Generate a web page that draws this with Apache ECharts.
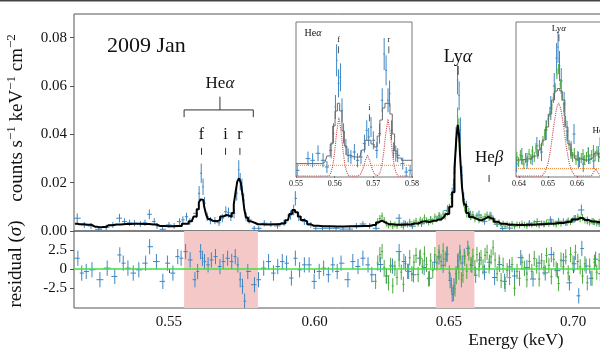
<!DOCTYPE html>
<html><head><meta charset="utf-8">
<script src="https://cdn.jsdelivr.net/npm/echarts/dist/echarts.min.js"></script>
<style>html,body{margin:0;padding:0;background:#fff}#c{width:600px;height:357px}</style>
</head><body><div id="c"></div><script>
// ---------------- data (energies in keV) ----------------
const xTicksMain = [0.55, 0.60, 0.65, 0.70];
const yTicksMain = [0, 0.02, 0.04, 0.06, 0.08];
const yTicksResid = [-2.5, 0, 2.5];
const xTicksInset1 = [0.55, 0.56, 0.57, 0.58];
const xTicksInset2 = [0.64, 0.65, 0.66];
const shadedBands = [[0.555, 0.580], [0.645, 0.660]];

// main model (counts s-1 keV-1 cm-2)
const modelMain = [
[0.5200,0.0030],[0.5215,0.0028],[0.5240,0.0026],[0.5262,0.0018],[0.5275,0.0016],[0.5290,0.0017],
[0.5305,0.0024],[0.5330,0.0027],[0.5360,0.0029],[0.5390,0.0030],[0.5420,0.0029],[0.5450,0.0027],
[0.5470,0.0021],[0.5500,0.0020],[0.5530,0.0021],[0.5555,0.0030],[0.5575,0.0040],[0.5588,0.0060],
[0.5596,0.0090],[0.5602,0.0118],[0.5608,0.0131],[0.5614,0.0128],[0.5620,0.0100],[0.5626,0.0070],
[0.5632,0.0050],[0.5640,0.0042],[0.5652,0.0040],[0.5665,0.0045],[0.5676,0.0060],[0.5686,0.0066],
[0.5696,0.0064],[0.5706,0.0058],[0.5714,0.0075],[0.5720,0.0110],[0.5726,0.0160],[0.5732,0.0205],
[0.5738,0.0218],[0.5744,0.0200],[0.5750,0.0150],[0.5756,0.0090],[0.5762,0.0055],[0.5770,0.0040],
[0.5782,0.0033],[0.5800,0.0028],[0.5830,0.0027],[0.5860,0.0028],[0.5885,0.0031],[0.5905,0.0045],
[0.5915,0.0070],[0.5925,0.0087],[0.5935,0.0078],[0.5945,0.0060],[0.5955,0.0046],[0.5968,0.0040],
[0.5978,0.0028],[0.5995,0.0022],[0.6030,0.0020],[0.6080,0.0019],[0.6130,0.0020],[0.6180,0.0021],
[0.6215,0.0025],[0.6232,0.0035],[0.6245,0.0043],[0.6258,0.0036],[0.6272,0.0028],[0.6300,0.0026],
[0.6340,0.0027],[0.6370,0.0031],[0.6395,0.0038],[0.6410,0.0040],[0.6425,0.0037],[0.6440,0.0042],
[0.6460,0.0048],[0.6480,0.0056],[0.6495,0.0070],[0.6508,0.0100],[0.6518,0.0160],[0.6526,0.0260],
[0.6532,0.0380],[0.6537,0.0439],[0.6542,0.0400],[0.6548,0.0290],[0.6555,0.0180],[0.6563,0.0110],
[0.6572,0.0075],[0.6585,0.0058],[0.6600,0.0050],[0.6620,0.0045],[0.6640,0.0050],[0.6655,0.0058],
[0.6668,0.0052],[0.6685,0.0038],[0.6705,0.0030],[0.6740,0.0026],[0.6780,0.0025],[0.6820,0.0026],
[0.6860,0.0028],[0.6900,0.0030],[0.6940,0.0033],[0.6980,0.0038],[0.7010,0.0048],[0.7030,0.0054],
[0.7050,0.0046],[0.7080,0.0039],[0.7110,0.0036],[0.7140,0.0038],[0.7180,0.0034],[0.7220,0.0032]
];

// instrument 1 (blue): [E, value, error]
const blueMain = [
[0.5207,0.0053,0.0020],[0.5229,0.0025,0.0012],[0.5250,0.0021,0.0012],[0.5274,0.0007,0.0010],
[0.5298,0.0015,0.0011],[0.5319,0.0025,0.0012],[0.5340,0.0053,0.0018],[0.5356,0.0039,0.0014],
[0.5372,0.0034,0.0013],[0.5388,0.0032,0.0013],[0.5407,0.0029,0.0012],[0.5422,0.0034,0.0013],
[0.5436,0.0069,0.0020],[0.5452,0.0039,0.0014],[0.5461,0.0021,0.0012],[0.5479,0.0007,0.0010],
[0.5500,0.0025,0.0012],[0.5517,0.0021,0.0012],[0.5535,0.0039,0.0014],[0.5546,0.0046,0.0015],
[0.5558,0.0059,0.0017],[0.5569,0.0039,0.0014],[0.5592,0.0073,0.0020],[0.5600,0.0156,0.0030],
[0.5607,0.0239,0.0040],[0.5613,0.0183,0.0034],[0.5618,0.0115,0.0026],[0.5627,0.0059,0.0018],
[0.5638,0.0043,0.0015],[0.5653,0.0043,0.0015],[0.5667,0.0034,0.0013],[0.5678,0.0053,0.0017],
[0.5690,0.0080,0.0022],[0.5699,0.0076,0.0021],[0.5707,0.0059,0.0018],[0.5718,0.0073,0.0020],
[0.5727,0.0156,0.0030],[0.5734,0.0253,0.0040],[0.5739,0.0204,0.0036],[0.5745,0.0183,0.0034],
[0.5751,0.0128,0.0028],[0.5759,0.0059,0.0018],[0.5770,0.0046,0.0015],[0.5787,0.0011,0.0010],
[0.5803,0.0011,0.0010],[0.5822,0.0032,0.0013],[0.5845,0.0029,0.0012],[0.5868,0.0021,0.0012],
[0.5891,0.0034,0.0013],[0.5914,0.0066,0.0019],[0.5925,0.0087,0.0022],[0.5931,0.0135,0.0030],
[0.5943,0.0059,0.0018],[0.5963,0.0039,0.0014],[0.5986,0.0025,0.0012],[0.6004,0.0011,0.0010],
[0.6028,0.0011,0.0010],[0.6053,0.0011,0.0010],[0.6077,0.0011,0.0010],[0.6102,0.0008,0.0010],
[0.6126,0.0008,0.0010],[0.6151,0.0021,0.0012],[0.6175,0.0029,0.0012],[0.6200,0.0021,0.0012],
[0.6224,0.0011,0.0010],[0.6310,0.0053,0.0017],[0.6328,0.0032,0.0013],[0.6360,0.0020,0.0012],
[0.6395,0.0030,0.0013],[0.6430,0.0046,0.0015],[0.6465,0.0058,0.0017],[0.6495,0.0085,0.0022],
[0.6513,0.0150,0.0030],[0.6522,0.0240,0.0040],[0.6528,0.0380,0.0050],[0.6534,0.0625,0.0060],
[0.6540,0.0560,0.0060],[0.6545,0.0420,0.0050],[0.6551,0.0230,0.0040],[0.6558,0.0130,0.0030],
[0.6568,0.0101,0.0024],[0.6585,0.0065,0.0019],[0.6618,0.0066,0.0019],[0.6640,0.0040,0.0014],
[0.6662,0.0062,0.0018],[0.6690,0.0028,0.0012],[0.6712,0.0010,0.0010],[0.6740,0.0012,0.0010],
[0.6780,0.0025,0.0012],[0.6820,0.0032,0.0013],[0.6852,0.0039,0.0014],[0.6880,0.0030,0.0013],
[0.6906,0.0046,0.0015],[0.6940,0.0040,0.0014],[0.6975,0.0036,0.0014],[0.7005,0.0050,0.0016],
[0.7035,0.0087,0.0022],[0.7060,0.0045,0.0015],[0.7085,0.0039,0.0014],[0.7110,0.0030,0.0013]
];

// instrument 2 (green): [E, value, error]
const greenMain = [
[0.6222,0.0025,0.0012],[0.6230,0.0040,0.0013],[0.6238,0.0052,0.0014],[0.6246,0.0062,0.0015],
[0.6254,0.0045,0.0013],[0.6262,0.0030,0.0012],[0.6270,0.0022,0.0011],[0.6278,0.0031,0.0012],
[0.6286,0.0018,0.0011],[0.6294,0.0027,0.0012],[0.6302,0.0020,0.0011],[0.6310,0.0032,0.0012],
[0.6318,0.0024,0.0011],[0.6326,0.0017,0.0011],[0.6334,0.0030,0.0012],[0.6342,0.0026,0.0012],
[0.6350,0.0038,0.0013],[0.6358,0.0028,0.0012],[0.6366,0.0035,0.0012],[0.6374,0.0042,0.0013],
[0.6382,0.0030,0.0012],[0.6390,0.0046,0.0013],[0.6398,0.0040,0.0013],[0.6406,0.0055,0.0014],
[0.6414,0.0043,0.0013],[0.6422,0.0035,0.0012],[0.6430,0.0048,0.0013],[0.6438,0.0040,0.0013],
[0.6446,0.0058,0.0014],[0.6454,0.0050,0.0014],[0.6462,0.0064,0.0015],[0.6470,0.0055,0.0014],
[0.6478,0.0070,0.0015],[0.6486,0.0062,0.0015],[0.6494,0.0082,0.0017],[0.6502,0.0095,0.0018],
[0.6510,0.0135,0.0022],[0.6518,0.0190,0.0026],[0.6524,0.0270,0.0030],[0.6529,0.0380,0.0034],
[0.6534,0.0473,0.0038],[0.6539,0.0430,0.0036],[0.6544,0.0340,0.0032],[0.6549,0.0220,0.0027],
[0.6555,0.0140,0.0022],[0.6562,0.0098,0.0018],[0.6570,0.0072,0.0016],[0.6578,0.0080,0.0016],
[0.6586,0.0060,0.0014],[0.6594,0.0068,0.0015],[0.6602,0.0050,0.0014],[0.6610,0.0062,0.0015],
[0.6618,0.0045,0.0013],[0.6626,0.0056,0.0014],[0.6634,0.0049,0.0014],[0.6642,0.0060,0.0014],
[0.6650,0.0066,0.0015],[0.6658,0.0055,0.0014],[0.6666,0.0062,0.0015],[0.6674,0.0047,0.0013],
[0.6682,0.0040,0.0013],[0.6690,0.0030,0.0012],[0.6698,0.0036,0.0012],[0.6706,0.0025,0.0011],
[0.6714,0.0031,0.0012],[0.6722,0.0020,0.0011],[0.6730,0.0028,0.0012],[0.6740,0.0024,0.0011],
[0.6750,0.0030,0.0012],[0.6760,0.0018,0.0011],[0.6770,0.0027,0.0012],[0.6780,0.0022,0.0011],
[0.6790,0.0031,0.0012],[0.6800,0.0026,0.0012],[0.6810,0.0020,0.0011],[0.6820,0.0030,0.0012],
[0.6830,0.0025,0.0011],[0.6840,0.0033,0.0012],[0.6850,0.0028,0.0012],[0.6860,0.0022,0.0011],
[0.6870,0.0032,0.0012],[0.6880,0.0027,0.0012],[0.6890,0.0035,0.0012],[0.6900,0.0029,0.0012],
[0.6910,0.0038,0.0013],[0.6920,0.0031,0.0012],[0.6930,0.0026,0.0012],[0.6940,0.0036,0.0012],
[0.6950,0.0030,0.0012],[0.6960,0.0040,0.0013],[0.6970,0.0033,0.0012],[0.6980,0.0043,0.0013],
[0.6990,0.0037,0.0012],[0.7000,0.0045,0.0013],[0.7010,0.0052,0.0014],[0.7020,0.0058,0.0014],
[0.7030,0.0050,0.0014],[0.7040,0.0056,0.0014],[0.7050,0.0044,0.0013],[0.7060,0.0040,0.0013],
[0.7070,0.0034,0.0012],[0.7080,0.0041,0.0013],[0.7090,0.0036,0.0012],[0.7100,0.0031,0.0012],
[0.7110,0.0038,0.0013],[0.7120,0.0033,0.0012]
];

// residuals in sigma: [E, residual]
const blueResid = [
[0.5209,1.43],[0.5221,-0.52],[0.5235,-0.31],[0.5253,-0.09],[0.5278,-1.39],[0.5301,0.13],
[0.5325,-0.96],[0.5341,1.86],[0.5352,0.78],[0.5367,0.13],[0.5384,-0.52],[0.5402,-0.09],
[0.5424,0.78],[0.5437,2.94],[0.5459,0.99],[0.5480,-1.61],[0.5495,0.78],[0.5513,-0.52],
[0.5529,1.64],[0.5540,1.43],[0.5555,2.29],[0.5570,1.21],[0.5586,-1.39],[0.5595,-0.31],
[0.5605,2.29],[0.5611,1.43],[0.5618,0.99],[0.5630,0.56],[0.5641,1.21],[0.5655,1.64],
[0.5670,0.34],[0.5681,0.99],[0.5696,1.43],[0.5710,0.99],[0.5722,1.64],[0.5731,0.56],
[0.5739,-1.39],[0.5747,-2.26],[0.5754,-4.20],[0.5765,-0.31],[0.5788,-2.04],[0.5802,-1.39],
[0.5820,0.13],[0.5837,0.99],[0.5854,-0.52],[0.5869,0.34],[0.5885,0.99],[0.5900,0.78],
[0.5917,-1.17],[0.5931,1.43],[0.5946,-0.09],[0.5963,0.56],[0.5980,0.56],[0.5998,-1.61],
[0.6016,-0.31],[0.6032,0.13],[0.6049,-0.74],[0.6065,0.56],[0.6081,-0.31],[0.6095,0.78],
[0.6120,-1.39],[0.6138,0.99],[0.6157,0.34],[0.6175,1.43],[0.6194,0.56],[0.6208,-0.74],
[0.6240,0.60],[0.6262,-0.90],[0.6285,0.40],[0.6310,2.29],[0.6328,0.99],[0.6346,-0.30],
[0.6364,-0.74],[0.6388,1.43],[0.6405,0.20],[0.6425,-1.20],[0.6445,0.90],[0.6462,1.60],
[0.6478,0.50],[0.6492,1.90],[0.6505,-1.50],[0.6513,-3.30],[0.6520,-2.20],[0.6528,-0.60],
[0.6536,1.10],[0.6543,2.20],[0.6552,0.80],[0.6560,1.70],[0.6574,2.73],[0.6590,0.50],
[0.6605,-0.80],[0.6620,1.20],[0.6640,-0.40],[0.6660,0.90],[0.6680,-1.10],[0.6700,0.60],
[0.6720,-1.60],[0.6740,0.30],[0.6760,-0.90],[0.6785,1.50],[0.6810,0.20],[0.6835,-1.30],
[0.6860,0.80],[0.6885,-0.50],[0.6910,1.90],[0.6935,-0.20],[0.6960,1.10],[0.6985,-1.80],
[0.7005,0.70],[0.7024,-3.50],[0.7037,2.70],[0.7055,0.40],[0.7075,-1.20],[0.7095,1.30],
[0.7115,-0.60]
];
const greenResidValues = [
-1.6,0.8,1.9,2.3,0.2,-0.9,-1.8,0.5,-2.2,0.1,-1.1,1.2,-0.4,-2.0,0.7,-0.3,1.5,-0.6,0.9,1.8,
-0.7,1.6,0.4,2.0,0.6,-1.3,1.1,-0.2,1.9,0.8,2.2,1.0,2.4,1.3,2.0,-0.5,-2.1,-3.2,-2.6,-1.0,
0.9,-0.4,1.6,-1.4,-0.8,1.4,-0.3,2.1,0.6,1.7,0.2,1.9,-0.1,1.5,0.3,1.8,2.2,0.4,1.6,2.8,
1.2,-0.6,0.9,-1.5,0.5,-2.0,-0.2,-1.1,0.6,-2.5,-0.3,-1.2,0.9,0.1,-1.4,1.0,-0.3,1.4,0.4,-1.3,
1.1,0.2,1.8,0.5,-1.0,1.3,0.0,-1.9,1.2,0.3,1.6,-0.5,1.9,0.8,2.2,1.0,0.3,-0.9,0.7,-1.8,
0.4,-1.2,0.9,-0.4,1.1,-0.7
];

// Inset 1 (He alpha triplet), arbitrary units
const inset1Blue = [
[0.5503,0.0057,0.006],[0.5531,0.0174,0.007],[0.5543,0.0157,0.007],[0.5557,0.0227,0.008],
[0.5570,0.0157,0.007],[0.5580,0.0090,0.006],[0.5591,0.0257,0.008],[0.5597,0.0427,0.010],
[0.5602,0.0690,0.012],[0.5605,0.1157,0.016],[0.5610,0.0927,0.014],[0.5615,0.0987,0.014],
[0.5619,0.0657,0.012],[0.5623,0.0427,0.010],[0.5629,0.0290,0.008],[0.5635,0.0207,0.007],
[0.5642,0.0190,0.007],[0.5651,0.0240,0.008],[0.5659,0.0157,0.007],[0.5668,0.0190,0.007],
[0.5677,0.0324,0.009],[0.5683,0.0457,0.010],[0.5688,0.0390,0.009],[0.5694,0.0490,0.010],
[0.5700,0.0357,0.009],[0.5709,0.0257,0.008],[0.5716,0.0424,0.010],[0.5723,0.0757,0.012],
[0.5728,0.1220,0.016],[0.5733,0.1057,0.015],[0.5738,0.0757,0.012],[0.5742,0.0824,0.013],
[0.5747,0.0457,0.010],[0.5752,0.0257,0.008],[0.5758,0.0224,0.008],[0.5763,0.0207,0.007],
[0.5776,0.0124,0.006],[0.5785,0.0040,0.005],[0.5795,0.0057,0.005]
];
const inset1Model = [
[0.5500,0.0124],[0.5560,0.0124],[0.5575,0.0140],[0.5585,0.0200],[0.5592,0.0320],[0.5598,0.0500],
[0.5604,0.0650],[0.5610,0.0727],[0.5616,0.0650],[0.5622,0.0450],[0.5628,0.0300],[0.5635,0.0207],
[0.5650,0.0190],[0.5665,0.0190],[0.5675,0.0260],[0.5682,0.0357],[0.5690,0.0357],[0.5698,0.0320],
[0.5706,0.0290],[0.5714,0.0400],[0.5720,0.0560],[0.5727,0.0680],[0.5733,0.0727],[0.5740,0.0727],
[0.5746,0.0620],[0.5752,0.0420],[0.5758,0.0250],[0.5765,0.0180],[0.5780,0.0157],[0.5800,0.0157]
];
const inset1Lines = [
[0.5500,0],[0.5585,0],[0.5590,0.003],[0.5595,0.010],[0.5600,0.024],[0.5605,0.043],[0.5611,0.059],
[0.5617,0.043],[0.5622,0.024],[0.5627,0.010],[0.5632,0.003],[0.5637,0],
[0.5660,0],[0.5667,0.002],[0.5673,0.007],[0.5679,0.015],[0.5685,0.0207],[0.5691,0.015],
[0.5697,0.007],[0.5703,0.002],[0.5710,0],
[0.5712,0],[0.5717,0.003],[0.5722,0.010],[0.5727,0.024],[0.5732,0.042],[0.5738,0.057],
[0.5744,0.042],[0.5749,0.024],[0.5754,0.010],[0.5759,0.003],[0.5764,0],[0.5800,0]
];
const inset1Continuum = [[0.5500,0.0107],[0.5800,0.0107]];

// Inset 2 (Ly alpha), arbitrary units
const inset2Green = [
[0.6393,0.019],[0.6399,0.014],[0.6405,0.021],[0.6411,0.016],[0.6417,0.012],[0.6423,0.018],
[0.6429,0.015],[0.6435,0.022],[0.6441,0.017],[0.6447,0.025],[0.6453,0.019],[0.6459,0.028],
[0.6465,0.022],[0.6471,0.031],[0.6477,0.027],[0.6483,0.035],[0.6489,0.042],[0.6495,0.050],
[0.6501,0.057],[0.6507,0.064],[0.6513,0.071],[0.6519,0.078],[0.6525,0.088],[0.6531,0.102],
[0.6537,0.107],[0.6543,0.092],[0.6549,0.080],[0.6555,0.069],[0.6561,0.055],[0.6567,0.041],
[0.6573,0.031],[0.6579,0.024],[0.6585,0.019],[0.6591,0.023],[0.6597,0.016],[0.6603,0.020],
[0.6609,0.014],[0.6615,0.018],[0.6621,0.022],[0.6627,0.016],[0.6633,0.019],[0.6639,0.024],
[0.6645,0.017],[0.6651,0.021],[0.6657,0.026],[0.6663,0.020],[0.6669,0.025],[0.6675,0.019],
[0.6681,0.022],[0.6687,0.016],[0.6693,0.019]
];
const inset2GreenErr = 0.005;
const inset2Blue = [
[0.6392,0.012,0.008],[0.6410,0.020,0.008],[0.6428,0.015,0.008],[0.6446,0.019,0.008],
[0.6462,0.030,0.009],[0.6478,0.024,0.009],[0.6494,0.046,0.010],[0.6510,0.068,0.012],
[0.6522,0.090,0.013],[0.6530,0.118,0.015],[0.6535,0.129,0.016],[0.6540,0.110,0.015],
[0.6546,0.095,0.013],[0.6556,0.072,0.012],[0.6566,0.045,0.010],[0.6580,0.026,0.009],
[0.6590,0.042,0.010],[0.6605,0.016,0.008],[0.6622,0.012,0.008],[0.6640,0.020,0.008],
[0.6658,0.015,0.008],[0.6675,0.022,0.008],[0.6690,0.013,0.008]
];
const inset2Model = [
[0.6390,0.016],[0.6430,0.017],[0.6460,0.020],[0.6475,0.026],[0.6488,0.036],[0.6497,0.049],
[0.6508,0.062],[0.6518,0.076],[0.6528,0.085],[0.6537,0.0875],[0.6545,0.085],[0.6553,0.076],
[0.6564,0.049],[0.6574,0.032],[0.6585,0.021],[0.6600,0.017],[0.6630,0.016],[0.6655,0.018],
[0.6668,0.023],[0.6680,0.019],[0.6700,0.016],[0.6790,0.016]
];
const inset2Lines = [
[0.6390,0],[0.6480,0],[0.6490,0.004],[0.6500,0.012],[0.6510,0.028],[0.6520,0.050],[0.6530,0.068],
[0.6537,0.073],[0.6544,0.068],[0.6554,0.050],[0.6564,0.028],[0.6574,0.012],[0.6584,0.004],
[0.6594,0],[0.6650,0],[0.6658,0.004],[0.6665,0.007],[0.6672,0.004],[0.6680,0],[0.6790,0]
];
const inset2Continuum = [[0.6390,0.0074],[0.6790,0.0074]];

// annotations
const mainMarks = [ // label, energy, text level, tick from, tick to
  {t:'{a|f}', E:0.5608, ty:0.0400, y0:0.0344, y1:0.0315, fs:16},
  {t:'{a|i}', E:0.5689, ty:0.0400, y0:0.0344, y1:0.0315, fs:16},
  {t:'{a|r}', E:0.5738, ty:0.0400, y0:0.0344, y1:0.0315, fs:16},
  {t:'{a|Ly}{g|α}', E:0.6536, ty:0.0720, y0:0.0683, y1:0.0646, fs:18},
  {t:'{a|He}{g|β}', E:0.6658, ty:0.0306, y0:0.0232, y1:0.0203, fs:17}
];
const heBracket = {E0:0.5550, E1:0.5784, Ec:0.5670, y:0.0501, yEnd:0.0471, yStem:0.0556, ty:0.0609};
const inset1Marks = [
  {t:'{a|f}', E:0.5610, ty:0.1357, y0:0.1297, y1:0.1227},
  {t:'{a|i}', E:0.5690, ty:0.0677, y0:0.0617, y1:0.0547},
  {t:'{a|r}', E:0.5740, ty:0.1357, y0:0.1297, y1:0.1227}
];
const inset2Marks = [
  {t:'{a|Ly}{g|α}', E:0.6538, ty:0.1477, y0:0.1417, y1:0.1347},
  {t:'{a|He}{g|β}', E:0.6680, ty:0.0457, y0:0.0387, y1:0.0297}
];

// ---------------- chart ----------------
const FONT = "'Liberation Serif','DejaVu Serif',serif";
const BLUE = '#3d86c3', GREEN = '#4aa93c', FRAME = '#555';
const lx = Math.log10;
const X0 = 0.5197, X1 = 0.71222;

function bars(arr, tx, cap, errOf) {
  return arr.map((p, i) => {
    const x = tx(p[0]);
    const hl = i > 0 ? Math.min((x - tx(arr[i-1][0])) / 2, cap) : cap;
    const hr = i < arr.length - 1 ? Math.min((tx(arr[i+1][0]) - x) / 2, cap) : cap;
    return [x, p[1], errOf(p), x - hl, x + hr];
  });
}
function errRender(color, lw) {
  return function (params, api) {
    const x = api.value(0), y = api.value(1), e = api.value(2);
    const a = api.coord([api.value(3), y]), b = api.coord([api.value(4), y]);
    const t = api.coord([x, y + e]), d = api.coord([x, y - e]);
    const st = {stroke: color, lineWidth: lw};
    return {type: 'group', children: [
      {type: 'line', shape: {x1: a[0], y1: a[1], x2: b[0], y2: b[1]}, style: st},
      {type: 'line', shape: {x1: t[0], y1: t[1], x2: d[0], y2: d[1]}, style: st}
    ]};
  };
}
const id = v => v;
const greenResid = greenMain.map((p, i) => [p[0], greenResidValues[i]]);

const chart = echarts.init(document.getElementById('c'), null, {renderer: 'canvas'});
const lbl = (fs) => ({fontFamily: FONT, fontSize: fs, color: '#111'});

const option = {
  animation: false,
  backgroundColor: '#fff',
  grid: [
    {left: 74, right: -2, top: 14, height: 217, outerBoundsMode: 'none', containLabel: false, show: true, borderColor: FRAME, borderWidth: 1, backgroundColor: 'transparent'},
    {left: 74, right: -2, top: 231, height: 77, outerBoundsMode: 'none', containLabel: false, show: true, borderColor: FRAME, borderWidth: 1, backgroundColor: 'transparent'},
    {left: 296, top: 22, width: 116, height: 155, outerBoundsMode: 'none', containLabel: false, show: true, borderColor: '#777', borderWidth: 1, backgroundColor: '#fff'},
    {left: 516, width: 116, top: 22, height: 155, outerBoundsMode: 'none', containLabel: false, show: true, borderColor: '#777', borderWidth: 1, backgroundColor: '#fff'}
  ],
  xAxis: [
    {type: 'value', gridIndex: 0, min: lx(X0), max: lx(X1), axisLine: {show: false}, axisTick: {show: false}, axisLabel: {show: false}, splitLine: {show: false}},
    {type: 'value', gridIndex: 1, min: lx(X0), max: lx(X1), axisLine: {show: false}, splitLine: {show: false},
      axisTick: {show: true, length: 4, lineStyle: {color: FRAME}, customValues: xTicksMain.map(lx)},
      axisLabel: Object.assign({customValues: xTicksMain.map(lx), margin: 7, formatter: v => Math.pow(10, v).toFixed(2)}, lbl(15))},
    {type: 'value', gridIndex: 2, min: 0.55, max: 0.58, axisLine: {show: false}, splitLine: {show: false},
      axisTick: {show: true, length: 2, lineStyle: {color: '#777'}, customValues: xTicksInset1},
      axisLabel: Object.assign({customValues: xTicksInset1, margin: 3, formatter: v => v.toFixed(2)}, lbl(8))},
    {type: 'value', gridIndex: 3, min: 0.639, max: 0.679, axisLine: {show: false}, splitLine: {show: false},
      axisTick: {show: true, length: 2, lineStyle: {color: '#777'}, customValues: xTicksInset2},
      axisLabel: Object.assign({customValues: xTicksInset2, margin: 3, formatter: v => v.toFixed(2)}, lbl(8))}
  ],
  yAxis: [
    {type: 'value', gridIndex: 0, min: 0, max: 0.0898, axisLine: {show: false}, splitLine: {show: false},
      axisTick: {show: true, length: 4, lineStyle: {color: FRAME}, customValues: yTicksMain},
      axisLabel: Object.assign({customValues: yTicksMain, margin: 7, formatter: v => v.toFixed(2)}, lbl(15))},
    {type: 'value', gridIndex: 1, min: -5.1, max: 5.0, axisLine: {show: false}, splitLine: {show: false},
      axisTick: {show: true, length: 4, lineStyle: {color: FRAME}, customValues: yTicksResid},
      axisLabel: Object.assign({customValues: yTicksResid, margin: 7, formatter: v => v === 0 ? '0' : (v < 0 ? '-' + Math.abs(v).toFixed(1) : v.toFixed(1))}, lbl(15))},
    {type: 'value', gridIndex: 2, min: -0.001, max: 0.154, show: false},
    {type: 'value', gridIndex: 3, min: -0.001, max: 0.154, show: false}
  ],
  series: [
    {type: 'custom', name: 'blue', xAxisIndex: 0, yAxisIndex: 0, clip: true, z: 2,
      data: bars(blueMain, lx, 0.0009, p => p[2]), renderItem: errRender(BLUE, 1)},
    {type: 'custom', name: 'green', xAxisIndex: 0, yAxisIndex: 0, clip: true, z: 2,
      data: bars(greenMain, lx, 0.0009, p => p[2]), renderItem: errRender(GREEN, 1)},
    {type: 'line', name: 'model', xAxisIndex: 0, yAxisIndex: 0, step: 'middle', showSymbol: false, z: 4,
      data: modelMain.map(p => [lx(p[0]), p[1]]), lineStyle: {color: '#000', width: 2}},
    {type: 'custom', name: 'blueResid', xAxisIndex: 1, yAxisIndex: 1, clip: true, z: 2,
      data: bars(blueResid, lx, 0.0009, () => 1), renderItem: errRender(BLUE, 1),
      markArea: {silent: true, itemStyle: {color: '#f5c8c8', opacity: 1},
        data: shadedBands.map(b => [{xAxis: lx(b[0])}, {xAxis: lx(b[1])}])}},
    {type: 'custom', name: 'greenResid', xAxisIndex: 1, yAxisIndex: 1, clip: true, z: 3,
      data: bars(greenResid, lx, 0.0009, () => 1), renderItem: errRender(GREEN, 1),
      markLine: {silent: true, symbol: ['none', 'none'], label: {show: false},
        lineStyle: {color: '#3fe03f', width: 1.6, type: 'solid'}, data: [{yAxis: 0}]}},
    // inset 1
    {type: 'line', xAxisIndex: 2, yAxisIndex: 2, showSymbol: false, z: 3, data: inset1Continuum,
      lineStyle: {color: '#f08a3c', width: 1, type: 'dotted'}},
    {type: 'line', xAxisIndex: 2, yAxisIndex: 2, showSymbol: false, z: 3, data: inset1Lines,
      lineStyle: {color: '#c8474a', width: 1.1, type: 'dotted'}},
    {type: 'custom', xAxisIndex: 2, yAxisIndex: 2, clip: true, z: 4,
      data: bars(inset1Blue, id, 0.0006, p => p[2]), renderItem: errRender(BLUE, 1)},
    {type: 'line', xAxisIndex: 2, yAxisIndex: 2, step: 'middle', showSymbol: false, z: 5, data: inset1Model,
      lineStyle: {color: '#6a6a6a', width: 1}},
    // inset 2
    {type: 'line', xAxisIndex: 3, yAxisIndex: 3, showSymbol: false, z: 3, data: inset2Continuum,
      lineStyle: {color: '#f08a3c', width: 1, type: 'dotted'}},
    {type: 'line', xAxisIndex: 3, yAxisIndex: 3, showSymbol: false, z: 3, data: inset2Lines,
      lineStyle: {color: '#c8474a', width: 1.1, type: 'dotted'}},
    {type: 'custom', xAxisIndex: 3, yAxisIndex: 3, clip: true, z: 4,
      data: bars(inset2Blue, id, 0.0005, p => p[2]), renderItem: errRender(BLUE, 1)},
    {type: 'custom', xAxisIndex: 3, yAxisIndex: 3, clip: true, z: 4,
      data: bars(inset2Green, id, 0.0004, () => inset2GreenErr), renderItem: errRender(GREEN, 1)},
    {type: 'line', xAxisIndex: 3, yAxisIndex: 3, step: 'middle', showSymbol: false, z: 5, data: inset2Model,
      lineStyle: {color: '#6a6a6a', width: 1}}
  ]
};
chart.setOption(option);

// ---------------- annotations ----------------
const rich = (fs) => ({
  a: {fontFamily: FONT, fontSize: fs, fill: '#111'},
  g: {fontFamily: FONT, fontSize: fs, fill: '#111', fontStyle: 'italic'}
});
function px(ax, E, v) { return chart.convertToPixel({xAxisIndex: ax, yAxisIndex: ax}, [ax < 2 ? lx(E) : E, v]); }
const g = [];
function addText(x, y, t, fs, align) {
  g.push({type: 'text', z: 100, x: x, y: y, style: {text: t, rich: rich(fs), align: align || 'center', verticalAlign: 'middle'}});
}
function addLine(p, q, w) {
  g.push({type: 'line', z: 100, shape: {x1: p[0], y1: p[1], x2: q[0], y2: q[1]}, style: {stroke: '#333', lineWidth: w || 1}});
}
mainMarks.forEach(m => {
  const pt = px(0, m.E, m.ty); addText(pt[0], pt[1], m.t, m.fs);
  addLine(px(0, m.E, m.y0), px(0, m.E, m.y1), 1);
});
{
  const b = heBracket;
  const l = px(0, b.E0, b.y), r = px(0, b.E1, b.y);
  addLine(l, r, 1);
  addLine(l, px(0, b.E0, b.yEnd), 1);
  addLine(r, px(0, b.E1, b.yEnd), 1);
  addLine(px(0, b.Ec, b.y), px(0, b.Ec, b.yStem), 1);
  const t = px(0, b.Ec, b.ty); addText(t[0], t[1], '{a|He}{g|α}', 17);
}
inset1Marks.forEach(m => {
  const pt = px(2, m.E, m.ty); addText(pt[0], pt[1], m.t, 8);
  addLine(px(2, m.E, m.y0), px(2, m.E, m.y1), 0.8);
});
{ const pt = px(2, 0.5522, 0.1427); addText(pt[0], pt[1], '{a|He}{g|α}', 10, 'left'); }
inset2Marks.forEach(m => {
  const pt = px(3, m.E, m.ty); addText(pt[0], pt[1], m.t, 9);
  addLine(px(3, m.E, m.y0), px(3, m.E, m.y1), 0.8);
});
// titles
g.push({type: 'text', z: 100, x: 107, y: 46, style: {text: '2009 Jan', fontFamily: FONT, fontSize: 22, fill: '#111', align: 'left', verticalAlign: 'middle'}});
g.push({type: 'text', z: 100, x: 516, y: 340, style: {text: 'Energy (keV)', fontFamily: FONT, fontSize: 17.5, fill: '#111', align: 'center', verticalAlign: 'middle'}});
g.push({type: 'text', z: 100, x: 17, y: 118, rotation: Math.PI / 2, style: {
  text: '{a|counts s}{s|−1}{a| keV}{s|−1}{a| cm}{s|−2}', align: 'center', verticalAlign: 'middle',
  rich: {a: {fontFamily: FONT, fontSize: 19, fill: '#111', lineHeight: 20, verticalAlign: 'bottom'},
         s: {fontFamily: FONT, fontSize: 13, fill: '#111', lineHeight: 14, padding: [0, 0, 9, 0], verticalAlign: 'bottom'}}}});
g.push({type: 'text', z: 100, x: 16, y: 264, rotation: Math.PI / 2, style: {
  text: '{a|residual (}{g|σ}{a|)}', align: 'center', verticalAlign: 'middle', rich: rich(19)}});
g.push({type: 'rect', z: 100, shape: {x: 0, y: 0, width: 600, height: 1.5}, style: {fill: '#444'}});
chart.setOption({graphic: g});
</script></body></html>
